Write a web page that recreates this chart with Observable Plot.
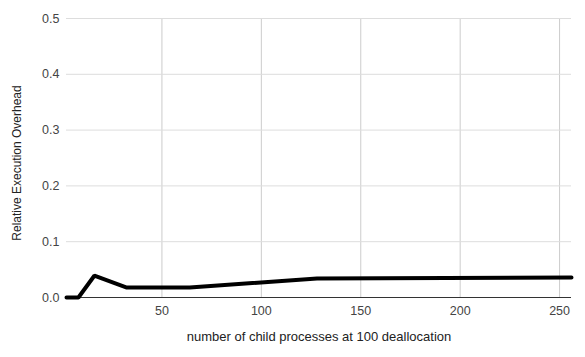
<!DOCTYPE html>
<html>
<head>
<meta charset="utf-8">
<script src="https://cdn.jsdelivr.net/npm/d3@7"></script>
<script src="https://cdn.jsdelivr.net/npm/@observablehq/plot@0.6"></script>
<style>
  html, body { margin: 0; padding: 0; background: #fff; }
  svg { font-family: "Liberation Sans", Arial, sans-serif; }
</style>
</head>
<body>
<div id="chart"></div>
<script>
const processes = [2, 4, 8, 16, 32, 64, 128, 256];
const overhead = [0, 0, 0, 0.039, 0.018, 0.018, 0.034, 0.036];
const xTicks = [50, 100, 150, 200, 250];
const yTicks = [0, 0.1, 0.2, 0.3, 0.4, 0.5];

const data = processes.map((p, i) => ({p, v: overhead[i]}));

const chart = Plot.plot({
  width: 585,
  height: 357,
  marginLeft: 66,
  marginRight: 14,
  marginTop: 18,
  marginBottom: 60,
  style: {fontSize: "12px", color: "#444", background: "#fff"},
  x: {domain: [2, 256], ticks: xTicks, label: null},
  y: {domain: [0, 0.5], ticks: yTicks, label: null},
  marks: [
    Plot.gridX(xTicks, {stroke: "#ccc", strokeOpacity: 1}),
    Plot.gridY(yTicks.slice(1), {stroke: "#ddd", strokeOpacity: 1}),
    Plot.axisX(xTicks, {tickSize: 0, tickPadding: 9, fill: "#444", fontSize: 12.5}),
    Plot.axisY(yTicks, {tickSize: 0, tickPadding: 7, tickFormat: d3.format(".1f"), fill: "#444", fontSize: 12.5}),
    Plot.ruleY([0], {stroke: "#333", strokeWidth: 1}),
    Plot.line(data, {x: "p", y: "v", stroke: "#000", strokeWidth: 4, strokeLinejoin: "miter"}),
    Plot.text(["number of child processes at 100 deallocation"], {frameAnchor: "bottom", dy: 43, fill: "#222", fontSize: 13}),
    Plot.text(["Relative Execution Overhead"], {frameAnchor: "left", textAnchor: "middle", dx: -49, dy: 5, rotate: -90, fill: "#222", fontSize: 12})
  ]
});
document.getElementById("chart").append(chart);
</script>
</body>
</html>
